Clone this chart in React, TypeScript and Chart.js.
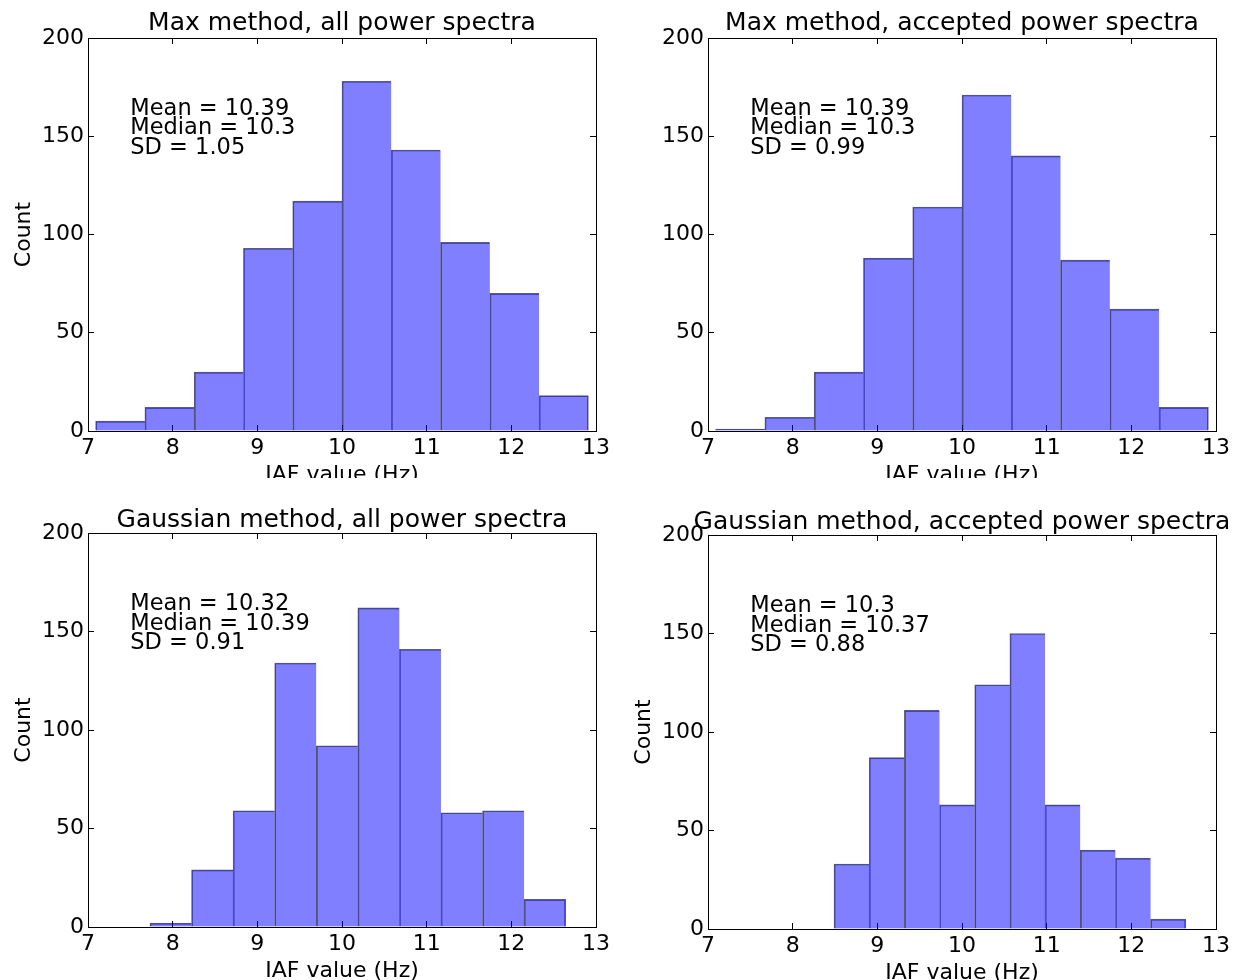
import React, { useEffect, useRef } from 'react';
import { Chart, registerables } from 'chart.js';

Chart.register(...registerables);

// ---------- data ----------
const xTickValues = [7, 8, 9, 10, 11, 12, 13];
const yTickValues = [0, 50, 100, 150, 200];

const maxAllEdges = [7.09, 7.672, 8.254, 8.836, 9.418, 10.0, 10.582, 11.164, 11.746, 12.328, 12.91];
const maxAllCounts = [5, 12, 30, 93, 117, 178, 143, 96, 70, 18];
const maxAllStats = ['Mean = 10.39', 'Median = 10.3', 'SD = 1.05'];

const maxAccEdges = [7.09, 7.672, 8.254, 8.836, 9.418, 10.0, 10.582, 11.164, 11.746, 12.328, 12.91];
const maxAccCounts = [1, 7, 30, 88, 114, 171, 140, 87, 62, 12];
const maxAccStats = ['Mean = 10.39', 'Median = 10.3', 'SD = 0.99'];

const gaussAllEdges = [7.732, 8.223, 8.714, 9.205, 9.696, 10.187, 10.678, 11.169, 11.66, 12.151, 12.642];
const gaussAllCounts = [2, 29, 59, 134, 92, 162, 141, 58, 59, 14];
const gaussAllStats = ['Mean = 10.32', 'Median = 10.39', 'SD = 0.91'];

const gaussAccEdges = [8.488, 8.904, 9.319, 9.735, 10.15, 10.566, 10.981, 11.397, 11.812, 12.228, 12.643];
const gaussAccCounts = [33, 87, 111, 63, 124, 150, 63, 40, 36, 5];
const gaussAccStats = ['Mean = 10.3', 'Median = 10.37', 'SD = 0.88'];

const titles = [
  'Max method, all power spectra',
  'Max method, accepted power spectra',
  'Gaussian method, all power spectra',
  'Gaussian method, accepted power spectra',
];
const xLabel = 'IAF value (Hz)';
const yLabel = 'Count';
const statsAnchor = [7.5, 141];

// ---------- layout ----------
const FONT = '"DejaVu Sans", sans-serif';

type PanelSpec = {
  left: number; top: number; clipH: number; canvasH: number; titlePadTop: number; titlePadBottom: number;
  showY: boolean; title: string; edges: number[]; counts: number[]; stats: string[];
};

const panels: PanelSpec[] = [
  { left: 0, top: 0, clipH: 478, canvasH: 500, titlePadTop: 10.5, titlePadBottom: 2.5, showY: true, title: titles[0], edges: maxAllEdges, counts: maxAllCounts, stats: maxAllStats },
  { left: 620, top: 0, clipH: 478, canvasH: 500, titlePadTop: 10.5, titlePadBottom: 2.5, showY: false, title: titles[1], edges: maxAccEdges, counts: maxAccCounts, stats: maxAccStats },
  { left: 0, top: 480, clipH: 500, canvasH: 516, titlePadTop: 27.5, titlePadBottom: 0.5, showY: true, title: titles[2], edges: gaussAllEdges, counts: gaussAllCounts, stats: gaussAllStats },
  { left: 620, top: 480, clipH: 500, canvasH: 518, titlePadTop: 29.5, titlePadBottom: 0.5, showY: true, title: titles[3], edges: gaussAccEdges, counts: gaussAccCounts, stats: gaussAccStats },
];

const CANVAS_W = 684;

const statsPlugin = {
  id: 'statsText',
  afterDraw(chart: any, _args: any, opts: any) {
    const lines: string[] = opts.lines || [];
    const ctx = chart.ctx;
    const x = chart.scales.x.getPixelForValue(statsAnchor[0]);
    const yLast = chart.scales.y.getPixelForValue(statsAnchor[1]);
    ctx.save();
    ctx.font = `22.5px ${FONT}`;
    ctx.fillStyle = '#000';
    ctx.textAlign = 'left';
    ctx.textBaseline = 'alphabetic';
    lines.forEach((l, i) => {
      ctx.fillText(l, x, yLast - (lines.length - 1 - i) * 19.5);
    });
    ctx.restore();
  },
};

const gridOpts = {
  display: true,
  drawOnChartArea: false,
  drawTicks: true,
  tickLength: -6,
  color: '#000',
  lineWidth: 1,
  offset: false,
};
const borderOpts = { display: true, color: '#000', width: 1 };

function Panel({ p }: { p: PanelSpec }) {
  const ref = useRef<HTMLCanvasElement>(null);
  useEffect(() => {
    if (!ref.current) return;
    const centers = p.edges.slice(0, -1).map((e, i) => (e + p.edges[i + 1]) / 2);
    const last = p.counts.length - 1;
    const chart = new Chart(ref.current, {
      type: 'bar',
      data: {
        datasets: [
          {
            data: centers.map((c, i) => ({ x: c, y: p.counts[i] })),
            backgroundColor: 'rgba(0,0,255,0.5)',
            borderColor: 'rgba(25,25,50,0.7)',
            borderWidth: (ctx: any) => ({ top: 1, left: 1, right: ctx.dataIndex === last ? 1 : 0, bottom: 0 }),
            barPercentage: 1,
            categoryPercentage: 1,
          } as any,
        ],
      },
      options: {
        animation: false,
        responsive: false,
        events: [],
        layout: { padding: { left: 0, right: 0, top: 0, bottom: 0 } },
        plugins: {
          legend: { display: false },
          tooltip: { enabled: false },
          title: {
            display: true,
            text: p.title,
            color: '#000',
            font: { family: FONT, size: 25, weight: 'normal', lineHeight: 1 },
            padding: { top: p.titlePadTop, bottom: p.titlePadBottom },
          },
          statsText: { lines: p.stats },
        } as any,
        scales: {
          x: {
            type: 'linear',
            position: 'bottom',
            min: 7,
            max: 13,
            offset: false,
            afterBuildTicks: (s: any) => { s.ticks = xTickValues.map((v) => ({ value: v })); },
            ticks: { autoSkip: false, maxRotation: 0, padding: 10.5, color: '#000', font: { family: FONT, size: 22 } },
            grid: gridOpts,
            border: borderOpts,
            title: {
              display: true,
              text: xLabel,
              color: '#000',
              font: { family: FONT, size: 22 },
              padding: { top: 0, bottom: 11.4 },
            },
            afterFit: (s: any) => { s.height = 69; },
          },
          x2: {
            type: 'linear',
            position: 'top',
            min: 7,
            max: 13,
            offset: false,
            afterBuildTicks: (s: any) => { s.ticks = xTickValues.map((v) => ({ value: v })); },
            ticks: { display: false },
            grid: gridOpts,
            border: borderOpts,
            afterFit: (s: any) => { s.height = 0; },
          },
          y: {
            type: 'linear',
            position: 'left',
            min: 0,
            max: 200,
            afterBuildTicks: (s: any) => { s.ticks = yTickValues.map((v) => ({ value: v })); },
            ticks: { padding: 10, color: '#000', font: { family: FONT, size: 22 } },
            grid: gridOpts,
            border: borderOpts,
            title: {
              display: p.showY,
              text: yLabel,
              color: '#000',
              font: { family: FONT, size: 22 },
              padding: { top: 11, bottom: 0 },
            },
            afterFit: (s: any) => { s.width = 88; },
          },
          y2: {
            type: 'linear',
            position: 'right',
            min: 0,
            max: 200,
            afterBuildTicks: (s: any) => { s.ticks = yTickValues.map((v) => ({ value: v })); },
            ticks: { display: false },
            grid: gridOpts,
            border: borderOpts,
            afterFit: (s: any) => { s.width = 88; },
          },
        } as any,
      },
      plugins: [statsPlugin as any],
    });
    return () => chart.destroy();
  }, []);
  return (
    <div
      style={{
        position: 'absolute',
        left: p.left,
        top: p.top,
        width: CANVAS_W,
        height: p.clipH,
        overflow: 'hidden',
      }}
    >
      <canvas
        ref={ref}
        width={CANVAS_W}
        height={p.canvasH}
        style={{ display: 'block', width: CANVAS_W, height: p.canvasH }}
      />
    </div>
  );
}

export default function App() {
  return (
    <div
      style={{
        position: 'absolute',
        left: 0,
        top: 0,
        width: 1242,
        height: 980,
        overflow: 'hidden',
        background: '#fff',
      }}
    >
      {panels.map((p, i) => (
        <Panel key={i} p={p} />
      ))}
    </div>
  );
}
